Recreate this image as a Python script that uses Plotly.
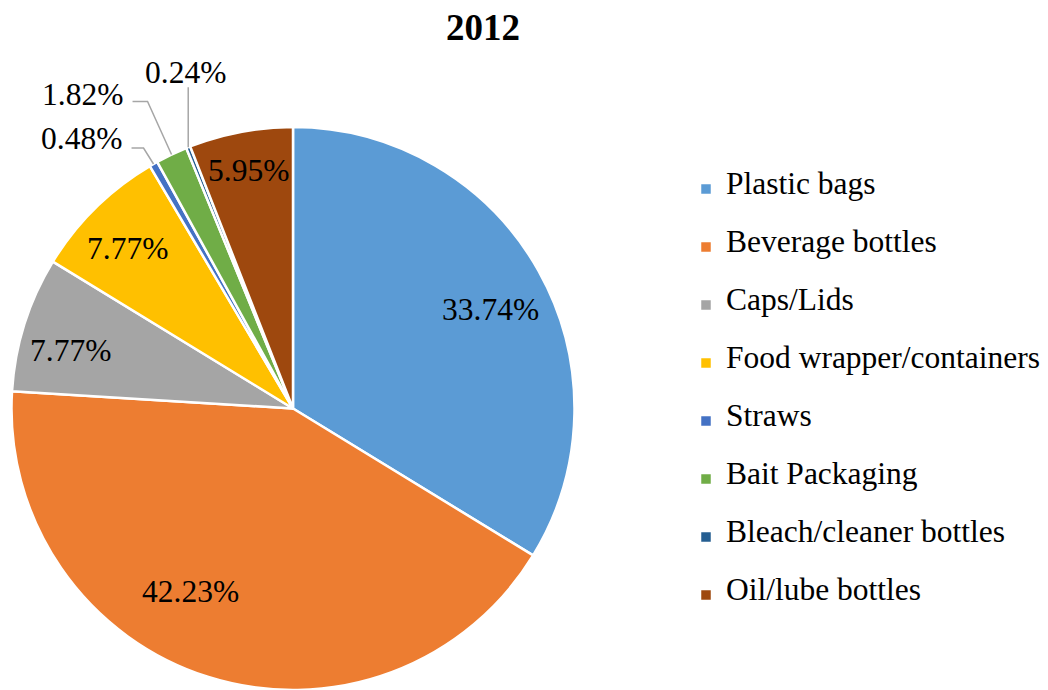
import math
import plotly.graph_objects as go

# ---- data -------------------------------------------------------------
categories = ["Plastic bags", "Beverage bottles", "Caps/Lids",
              "Food wrapper/containers", "Straws", "Bait Packaging",
              "Bleach/cleaner bottles", "Oil/lube bottles"]
shares = [33.74, 42.23, 7.77, 7.77, 0.48, 1.82, 0.24, 5.95]
colors = ["#5B9BD5", "#ED7D31", "#A5A5A5", "#FFC000",
          "#4472C4", "#70AD47", "#255E91", "#9E480E"]
title_text = "2012"

# ---- layout constants (pixels) ---------------------------------------
W, H = 1048, 690
FONT = "Times New Roman, Liberation Serif, DejaVu Serif, serif"
TEXT_SIZE = 31.5
PIE_LEFT, PIE_RIGHT, PIE_TOP = 10, 576, 127

dom_x = [PIE_LEFT / W, PIE_RIGHT / W]
dom_y = [0.0, 1 - PIE_TOP / H]
cx = (PIE_LEFT + PIE_RIGHT) / 2
pie_h = H - PIE_TOP
radius = min(PIE_RIGHT - PIE_LEFT, pie_h) / 2
cy = H - pie_h / 2

# inside labels: radial position as a fraction of the radius
inside_radius = {0: 0.78, 1: 0.76, 2: 0.81, 3: 0.82, 7: 0.86}
label_nudge = {0: (6, 8), 1: (-38, -21), 2: (-5, 10), 3: (-4, 4)}
# outside labels: elbow offset, horizontal tail, text offset from line end
outside_style = {
    4: dict(elbow=(-10, -16), tail=-12, text=(-8, -9), anchor="right"),
    5: dict(elbow=(-24, -53), tail=-15, text=(-8, -7), anchor="right"),
    6: dict(elbow=(0, -60), tail=0, text=(-3, -15), anchor="center"),
}


def px(x):
    return x / W


def py(y):
    return 1 - y / H


def mid_angle(i):
    before = sum(shares[:i])
    frac = (before + shares[i] / 2) / sum(shares)
    return math.radians(90 - 360 * frac)


def polar(i, r):
    a = mid_angle(i)
    return cx + r * radius * math.cos(a), cy - r * radius * math.sin(a)


# legend entries spaced out with padding lines around the visible label
legend_labels = [
    f"&nbsp;<br><span style='font-size:{TEXT_SIZE}px'>{c}</span><br>&nbsp;"
    for c in categories
]

fig = go.Figure(go.Pie(
    labels=legend_labels,
    values=shares,
    sort=False,
    direction="clockwise",
    rotation=0,
    marker=dict(colors=colors, line=dict(color="white", width=2.5)),
    textinfo="none",
    domain=dict(x=dom_x, y=dom_y),
    hoverinfo="value",
))

annotations = []
shapes = []
for i, v in enumerate(shares):
    text = f"{v:.2f}%"
    if i in inside_radius:
        x, y = polar(i, inside_radius[i])
        dx, dy = label_nudge.get(i, (0, 0))
        annotations.append(dict(
            x=px(x + dx), y=py(y + dy), xref="paper", yref="paper",
            text=text, showarrow=False, xanchor="center", yanchor="middle",
            font=dict(family=FONT, size=TEXT_SIZE, color="black")))
    else:
        st = outside_style[i]
        x0, y0 = polar(i, 1.0)
        x1, y1 = x0 + st["elbow"][0], y0 + st["elbow"][1]
        x2, y2 = x1 + st["tail"], y1
        shapes.append(dict(
            type="path", xref="paper", yref="paper",
            path=f"M {px(x0)},{py(y0)} L {px(x1)},{py(y1)} L {px(x2)},{py(y2)}",
            line=dict(color="#A6A6A6", width=1.5)))
        annotations.append(dict(
            x=px(x2 + st["text"][0]), y=py(y2 + st["text"][1]),
            xref="paper", yref="paper", text=text, showarrow=False,
            xanchor=st["anchor"], yanchor="middle",
            font=dict(family=FONT, size=TEXT_SIZE, color="black")))

fig.update_layout(
    width=W, height=H,
    margin=dict(l=0, r=0, t=0, b=0),
    paper_bgcolor="white",
    plot_bgcolor="white",
    font=dict(family=FONT, color="black"),
    title=dict(text=f"<b>{title_text}</b>", x=483 / W, y=py(27),
               xref="paper", yref="paper", xanchor="center", yanchor="middle",
               font=dict(family=FONT, size=37, color="black")),
    legend=dict(x=686 / W, y=py(392), xanchor="left", yanchor="middle",
                font=dict(family=FONT, size=14.1, color="black"),
                bgcolor="rgba(0,0,0,0)", borderwidth=0),
    annotations=annotations,
    shapes=shapes,
)

fig.write_html("out.html")
